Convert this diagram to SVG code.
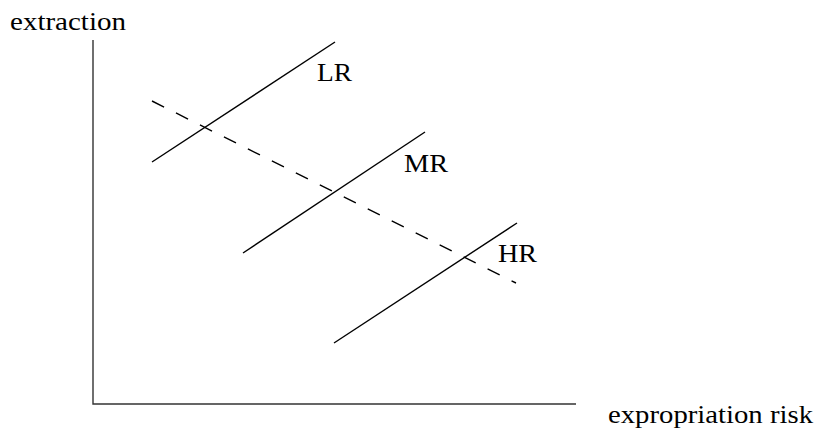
<svg xmlns="http://www.w3.org/2000/svg" width="815" height="430" viewBox="0 0 815 430">
<style>
.ln{stroke:#000;stroke-width:1.4;fill:none}
.ax{stroke:#333;stroke-width:1.4;fill:none}
.dash{stroke:#000;stroke-width:1.4;fill:none;stroke-dasharray:13.5 13.3}
text{font-family:"Liberation Serif","DejaVu Serif",serif;font-size:25px;fill:#000}
</style>
<rect width="815" height="430" fill="#fff"/>
<g id="axes">
<path class="ax" d="M93,40 V404 H576"/>
<text x="10" y="30" textLength="116" lengthAdjust="spacingAndGlyphs">extraction</text>
<text x="608" y="423" textLength="205" lengthAdjust="spacingAndGlyphs">expropriation risk</text>
</g>
<g id="connectors">
<line class="dash" x1="152" y1="101" x2="516" y2="283"/>
</g>
<g id="LR">
<line class="ln" x1="152" y1="162" x2="335" y2="42"/>
<text x="317" y="81" textLength="35" lengthAdjust="spacingAndGlyphs">LR</text>
</g>
<g id="MR">
<line class="ln" x1="243" y1="253" x2="425" y2="132"/>
<text x="404" y="172" textLength="44" lengthAdjust="spacingAndGlyphs">MR</text>
</g>
<g id="HR">
<line class="ln" x1="334" y1="343" x2="517" y2="223"/>
<text x="498" y="262" textLength="39" lengthAdjust="spacingAndGlyphs">HR</text>
</g>
</svg>
